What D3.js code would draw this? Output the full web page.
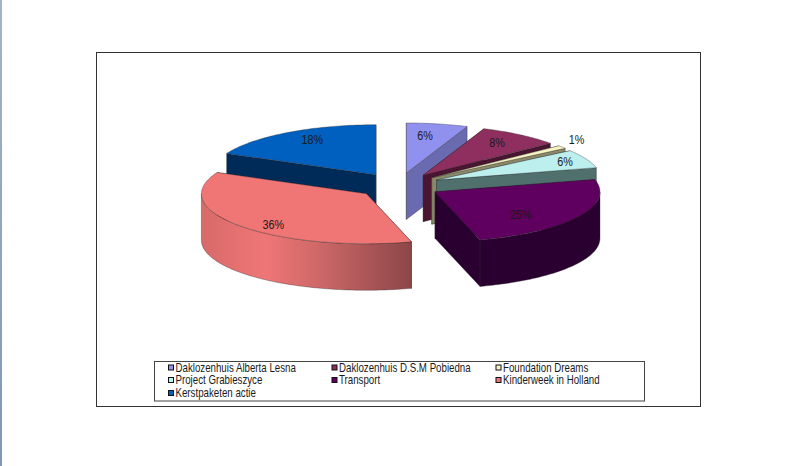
<!DOCTYPE html>
<html>
<head>
<meta charset="utf-8">
<script src="https://cdn.jsdelivr.net/npm/d3@7/dist/d3.min.js"></script>
<style>
html,body{margin:0;padding:0;background:#fff;overflow:hidden}
svg{display:block}
text{font-family:"Liberation Sans",Arial,sans-serif;fill:#1a1a1a}
</style>
</head>
<body>
<svg id="c" width="795" height="466"></svg>
<script>
const categories = ["Daklozenhuis Alberta Lesna","Daklozenhuis D.S.M Pobiedna","Foundation Dreams","Project Grabieszyce","Transport","Kinderweek in Holland","Kerstpaketen actie"];
const values = [6,8,1,6,24.6,36.4,18];
const topColors = ["#9090ee","#8f2f5f","#f8f4c4","#bdefee","#5f0060","#f07575","#0060c0"];
const wallColors = ["#6a6ab0","#4a1530","#8a8868","#50706e","#2a0030","url(#salmonWall)","#002a58"];
const drawOrder = [0,1,2,3,4,6,5];
const labelRadiusX = [0.6,0.76,1.11,0.86,0.6,0.74,0.72];
const labelRadiusY = [0.76,0.8,1.22,0.85,0.94,0.97,0.83];

const svg = d3.select("#c");
const defs = svg.append("defs");
const strip = defs.append("linearGradient").attr("id","strip").attr("x1",0).attr("x2",0).attr("y1",0).attr("y2",1);
strip.append("stop").attr("offset",0).attr("stop-color","#a6b3cc");
strip.append("stop").attr("offset",1).attr("stop-color","#7f96b6");
const sw = defs.append("linearGradient").attr("id","salmonWall").attr("gradientUnits","userSpaceOnUse")
  .attr("x1",202).attr("x2",412).attr("y1",0).attr("y2",0);
[[0,"#d86a6a"],[0.3,"#ef7676"],[0.55,"#cf6868"],[1,"#8c4648"]].forEach(s=>sw.append("stop").attr("offset",s[0]).attr("stop-color",s[1]));

svg.append("rect").attr("x",0).attr("y",0).attr("width",2).attr("height",466).attr("fill","url(#strip)");
svg.append("rect").attr("x",96.5).attr("y",52.5).attr("width",604).attr("height",354).attr("fill","#fff").attr("stroke","#333");

const px = d3.scaleLinear().domain([-1,1]).range([233.5,563.5]);
const py = d3.scaleLinear().domain([-1,1]).range([135.5,235.5]);
const depth = 46.5, explode = 0.255;
const pie = d3.pie().sort(null).value(d=>d)(values);
const line = d3.line();
const edge = {stroke:"#2a2a2a","stroke-width":0.5,"stroke-opacity":0.7,"stroke-linejoin":"round"};

function sliceGeom(d){
  const mid=(d.startAngle+d.endAngle)/2;
  const ox=explode*Math.sin(mid), oy=-explode*Math.cos(mid);
  const P=(a,r=1,dz=0)=>[px(ox+r*Math.sin(a)),py(oy-r*Math.cos(a))+dz];
  return {mid,ox,oy,P};
}
function arcPts(P,a0,a1,dz=0,rev=false){
  const n=Math.max(2,Math.ceil((a1-a0)/0.02));
  const pts=d3.range(n+1).map(i=>P(a0+(a1-a0)*i/n,1,dz));
  return rev?pts.reverse():pts;
}
const g=svg.append("g");
function face(pts,fill){
  const p=g.append("path").attr("d",line(pts)+"Z").attr("fill",fill);
  Object.entries(edge).forEach(([k,v])=>p.attr(k,v));
}
drawOrder.forEach(i=>{
  const d=pie[i], {P}=sliceGeom(d), a0=d.startAngle, a1=d.endAngle;
  const apex=P(0,0), apexB=P(0,0,depth);
  [a0,a1].forEach(a=>face([apex,P(a),P(a,1,depth),apexB],wallColors[i]==="url(#salmonWall)"?"#8c4648":wallColors[i]));
  const lo=Math.max(a0,Math.PI/2), hi=Math.min(a1,Math.PI*1.5);
  if(hi>lo) face(arcPts(P,lo,hi,0).concat(arcPts(P,lo,hi,depth,true)),wallColors[i]);
  face([apex].concat(arcPts(P,a0,a1)),topColors[i]);
});

const labels=svg.append("g");
pie.forEach((d,i)=>{
  const {mid,ox,oy}=sliceGeom(d);
  const x=px(ox+labelRadiusX[i]*Math.sin(mid)), y=py(oy-labelRadiusY[i]*Math.cos(mid));
  labels.append("text").attr("transform",`translate(${x},${y+4}) scale(0.9,1)`)
    .attr("text-anchor","middle").attr("font-size",12).text(d3.format(".0%")(d.value/100));
});

svg.append("rect").attr("x",154.5).attr("y",361.5).attr("width",490).attr("height",39.5).attr("fill","#fff").attr("stroke","#444");
const col=d3.scaleOrdinal().domain([0,1,2]).range([168,331.5,495.5]);
const row=d3.scaleOrdinal().domain([0,1,2]).range([367.5,380,393]);
const leg=svg.append("g");
categories.forEach((c,i)=>{
  const x=col(i%3), y=row(Math.floor(i/3));
  leg.append("rect").attr("x",x+0.5).attr("y",y-2.5).attr("width",5).attr("height",5)
    .attr("fill",topColors[i]).attr("stroke","#111").attr("stroke-width",1);
  leg.append("text").attr("transform",`translate(${x+7.5},${y+4}) scale(0.81,1)`).attr("font-size",12).text(c);
});
</script>
</body>
</html>
